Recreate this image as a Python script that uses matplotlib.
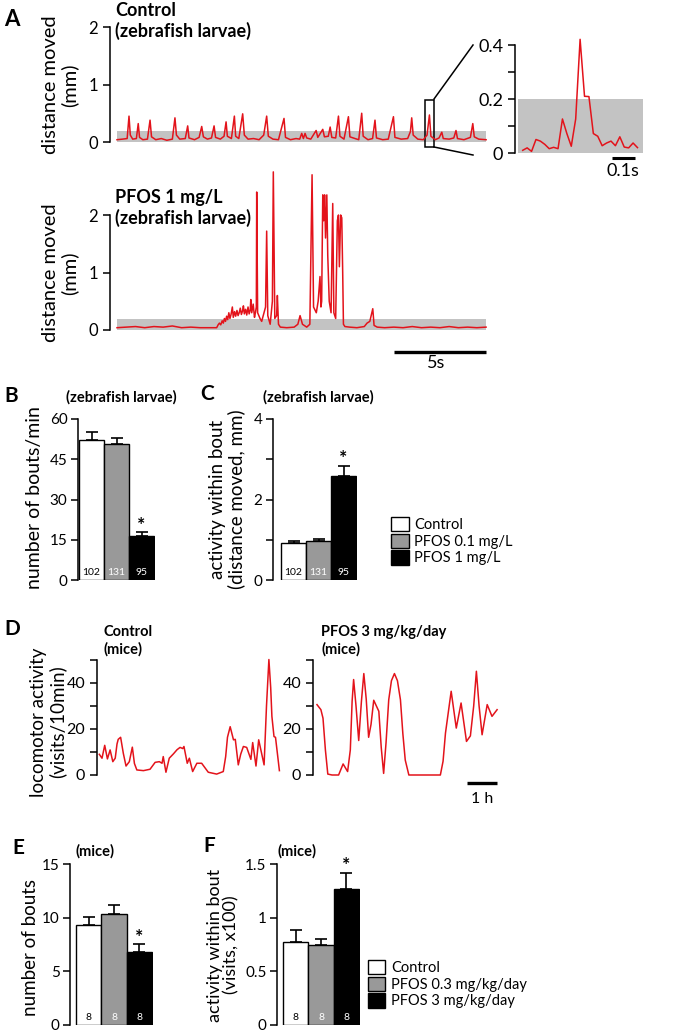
import matplotlib.pyplot as plt
import numpy as np
from matplotlib.patches import Patch, Rectangle
from matplotlib.lines import Line2D

plt.rcParams['font.family'] = ['Lato', 'DejaVu Sans']
plt.rcParams['font.size'] = 12
plt.rcParams['axes.linewidth'] = 1.1
plt.rcParams['ytick.major.width'] = 1.1
plt.rcParams['ytick.major.size'] = 5
plt.rcParams['ytick.labelsize'] = 12

# ---- panel A: zebrafish traces (time in s, distance in mm) ----
ctrl_t = [0, 0.3, 0.55, 0.65, 0.72, 0.85, 1.05, 1.15, 1.22, 1.4, 1.65, 1.79, 1.87, 2.1, 2.4,
          2.7, 3.0, 3.14, 3.22, 3.4, 3.7, 3.83, 3.9, 4.2, 4.45, 4.59, 4.68, 4.9, 5.12, 5.26,
          5.34, 5.6, 5.8, 5.91, 5.98, 6.2, 6.36, 6.43, 6.6, 6.81, 6.9, 7.1, 7.4, 7.7, 7.95,
          8.11, 8.2, 8.45, 8.75, 9.05, 9.13, 9.4, 9.7, 9.9, 10.01, 10.1, 10.19, 10.28, 10.5,
          10.79, 10.88, 11.15, 11.24, 11.45, 11.55, 11.64, 11.85, 12.0, 12.08, 12.3, 12.54,
          12.62, 12.9, 13.1, 13.26, 13.34, 13.6, 13.85, 13.98, 14.06, 14.4, 14.7, 14.98,
          15.06, 15.4, 15.75, 15.9, 15.97, 16.05, 16.3, 16.6, 16.8, 16.93, 17.01, 17.25,
          17.45, 17.6, 17.68, 18.0, 18.25, 18.37, 18.45, 18.8, 19.15, 19.28, 19.36, 19.6, 20.0]
ctrl_y = [0.04, 0.05, 0.06, 0.45, 0.12, 0.05, 0.06, 0.32, 0.08, 0.04, 0.05, 0.38, 0.09, 0.04, 0.06,
          0.03, 0.05, 0.42, 0.12, 0.05, 0.06, 0.28, 0.07, 0.04, 0.08, 0.27, 0.09, 0.05, 0.07, 0.28,
          0.08, 0.05, 0.10, 0.35, 0.10, 0.06, 0.45, 0.10, 0.06, 0.49, 0.12, 0.05, 0.06, 0.04, 0.12,
          0.45, 0.10, 0.05, 0.04, 0.41, 0.08, 0.04, 0.06, 0.05, 0.15, 0.06, 0.15, 0.07, 0.05,
          0.20, 0.08, 0.22, 0.09, 0.10, 0.26, 0.08, 0.07, 0.45, 0.10, 0.05, 0.44,
          0.09, 0.06, 0.04, 0.50, 0.10, 0.04, 0.06, 0.38, 0.07, 0.04, 0.05, 0.44,
          0.08, 0.05, 0.06, 0.18, 0.42, 0.12, 0.05, 0.04, 0.12, 0.47, 0.10, 0.04,
          0.07, 0.17, 0.06, 0.05, 0.07, 0.20, 0.06, 0.04, 0.08, 0.32, 0.09, 0.05, 0.04]

# (time, distance) vertices of the PFOS 1 mg/L trace
pfos_trace = [
    (0, 0.04), (0.5, 0.05), (1.0, 0.06), (1.5, 0.04), (2.0, 0.06), (2.5, 0.05), (3.0, 0.07),
    (3.5, 0.04), (4.0, 0.05), (4.5, 0.04), (5.0, 0.04), (5.4, 0.04), (5.48, 0.09), (5.55, 0.12),
    (5.62, 0.09), (5.7, 0.16), (5.76, 0.12), (5.82, 0.20), (5.88, 0.15), (5.94, 0.24),
    (6.0, 0.18), (6.06, 0.30), (6.12, 0.20), (6.18, 0.27), (6.25, 0.40), (6.3, 0.22),
    (6.37, 0.32), (6.43, 0.24), (6.5, 0.34), (6.56, 0.25), (6.62, 0.30), (6.68, 0.38),
    (6.74, 0.27), (6.8, 0.33), (6.85, 0.42), (6.9, 0.28), (6.97, 0.36), (7.03, 0.26),
    (7.1, 0.40), (7.16, 0.28), (7.22, 0.35), (7.25, 0.53), (7.3, 0.30), (7.38, 0.45),
    (7.45, 0.22), (7.5, 0.30), (7.55, 0.40), (7.57, 2.40), (7.62, 0.30), (7.75, 0.20),
    (7.84, 0.15), (8.05, 0.40), (8.11, 1.72), (8.17, 0.25), (8.3, 0.10), (8.42, 0.50),
    (8.47, 2.75), (8.55, 0.20), (8.65, 0.25), (8.69, 0.60), (8.75, 0.10), (8.85, 0.05),
    (9.2, 0.04), (9.6, 0.05), (9.8, 0.10), (9.92, 0.25), (10.05, 0.10), (10.28, 0.05),
    (10.45, 0.10), (10.57, 2.70), (10.65, 0.40), (10.8, 0.30), (10.9, 0.50), (11.0, 0.93),
    (11.05, 0.40), (11.09, 0.50), (11.15, 2.35), (11.2, 1.90), (11.25, 2.35), (11.3, 1.60),
    (11.37, 2.35), (11.42, 1.30), (11.5, 0.50), (11.6, 0.30), (11.69, 2.20), (11.75, 0.30),
    (11.85, 0.20), (11.94, 1.90), (12.0, 2.00), (12.05, 1.10), (12.12, 2.00), (12.18, 1.95),
    (12.23, 1.00), (12.27, 0.10), (12.35, 0.06), (12.6, 0.05), (13.0, 0.04), (13.4, 0.06),
    (13.55, 0.12), (13.7, 0.15), (13.86, 0.37), (13.93, 0.08), (14.1, 0.05), (14.5, 0.04),
    (15.0, 0.05), (15.5, 0.04), (16.0, 0.06), (16.5, 0.04), (17.0, 0.05), (17.5, 0.04),
    (18.0, 0.06), (18.5, 0.04), (19.0, 0.05), (19.5, 0.04), (20.0, 0.05)]

# inset: 50 Hz samples around the boxed bout
inset_y = [0.010, 0.019, 0.006, 0.050, 0.044, 0.032, 0.016, 0.021, 0.016, 0.126, 0.072, 0.025,
           0.126, 0.421, 0.210, 0.209, 0.072, 0.062, 0.027, 0.037, 0.044, 0.027, 0.060, 0.022,
           0.019, 0.037, 0.020]
inset_t = np.arange(len(inset_y)) * 0.02

# ---- panels B, C: zebrafish bars ----
zf_groups = ['Control', 'PFOS 0.1 mg/L', 'PFOS 1 mg/L']
zf_bouts = [52.0, 50.6, 16.5]
zf_bouts_err = [3.3, 2.4, 1.4]
zf_activity = [0.92, 0.98, 2.58]
zf_activity_err = [0.04, 0.03, 0.26]
zf_n = [102, 131, 95]

# ---- panel D: mice traces (time in h, visits/10min) ----
mctrl_t = [0.01, 0.10, 0.19, 0.28, 0.37, 0.46, 0.54, 0.60, 0.64, 0.72, 0.81, 0.90, 1.01, 1.11,
           1.18, 1.26, 1.48, 1.70, 1.87, 2.01, 2.10, 2.14, 2.23, 2.34, 2.48, 2.60, 2.70, 2.79,
           2.83, 2.94, 3.01, 3.12, 3.26, 3.42, 3.64, 3.92, 4.14, 4.22, 4.28, 4.37, 4.48, 4.54,
           4.64, 4.72, 4.81, 4.92, 5.06, 5.12, 5.23, 5.32, 5.50, 5.58, 5.66, 5.72, 5.76, 5.83,
           5.88, 6.01]
mctrl_y = [9.0, 7.3, 12.9, 7.0, 10.9, 5.8, 7.3, 13.5, 15.5, 16.4, 9.4, 3.9, 5.8, 12.1,
           5.0, 2.2, 1.9, 2.5, 5.5, 5.8, 5.1, 8.0, 1.2, 7.3, 9.2, 11.0, 12.0, 11.5,
           12.4, 5.1, 7.3, 1.5, 5.1, 5.1, 1.2, 0.4, 1.5, 8.0, 16.4, 21.0, 15.3, 15.5,
           4.4, 9.0, 12.4, 12.0, 6.8, 14.1, 3.9, 15.3, 4.4, 30.0, 50.2, 38.0, 25.5, 16.7,
           16.4, 1.9]
mpfos_t = [0, 0.13, 0.2, 0.28, 0.36, 0.5, 0.72, 0.87, 1.02, 1.11, 1.17, 1.22, 1.30, 1.39, 1.48,
           1.56, 1.64, 1.72, 1.80, 1.89, 2.06, 2.14, 2.22, 2.30, 2.39, 2.48, 2.58, 2.68, 2.78,
           2.86, 2.94, 3.06, 3.89, 4.11, 4.20, 4.28, 4.47, 4.64, 4.8, 4.98, 5.11, 5.22, 5.31,
           5.40, 5.5, 5.67, 5.83, 6.0]
mpfos_y = [30.6, 28.4, 24.7, 10.9, 0.4, 0, 0, 4.8, 1.5, 10.9, 32.0, 41.5, 30.0, 15.0, 32.0,
           44.1, 33.0, 16.4, 22.0, 32.5, 27.7, 12.0, 0.7, 14.0, 32.7, 41.0, 44.1, 41.0, 32.7,
           18.0, 6.5, 0, 0, 0, 6.0, 18.2, 36.4, 20.4, 31.3, 14.6, 17.0, 30.0, 45.1,
           30.0, 17.5, 30.6, 25.5, 28.4]

# ---- panels E, F: mice bars ----
mice_groups = ['Control', 'PFOS 0.3 mg/kg/day', 'PFOS 3 mg/kg/day']
mice_bouts = [9.3, 10.3, 6.8]
mice_bouts_err = [0.74, 0.84, 0.71]
mice_activity = [0.77, 0.75, 1.27]
mice_activity_err = [0.115, 0.047, 0.15]
mice_n = [8, 8, 8]

W, H = 673, 1034
RED = '#e3131b'
BAND = '#c3c3c3'
BAR_COLORS = ['white', '#999999', 'black']
N_COLORS = ['black', 'white', 'white']

fig = plt.figure(figsize=(W / 100, H / 100), dpi=100)


def box(l, t, r, b):
    return fig.add_axes([l / W, 1 - b / H, (r - l) / W, (b - t) / H])


def ftext(x, y, s, **kw):
    return fig.text(x / W, 1 - y / H, s, **kw)


def left_only(ax, top):
    for s in ['top', 'right', 'bottom']:
        ax.spines[s].set_visible(False)
    ax.spines['left'].set_bounds(0, top)
    ax.set_xticks([])
    ax.patch.set_alpha(0)


def bar_panel(ax, vals, errs, ns, ticks, labels, ymax, xmin):
    x = np.arange(len(vals))
    ax.bar(x, vals, width=1, color=BAR_COLORS, edgecolor='black', linewidth=1, zorder=2)
    ax.errorbar(x, vals, yerr=[np.zeros(len(vals)), errs], fmt='none', ecolor='black',
                elinewidth=1.2, capsize=4, capthick=1.2, zorder=1)
    for i, n in enumerate(ns):
        ax.text(i, 0.045, str(n), transform=ax.get_xaxis_transform(), ha='center', va='center',
                fontsize=7.5, color=N_COLORS[i], zorder=3)
    ax.annotate('*', (2, vals[2] + errs[2]), xytext=(0, 1), textcoords='offset points',
                ha='center', va='baseline', fontsize=14, fontweight='bold')
    ax.set_ylim(0, ymax)
    ax.set_xlim(xmin, 2.54)
    ax.set_yticks(ticks)
    ax.set_yticklabels(labels)
    ax.tick_params(axis='y', labelsize=11, pad=2.5)
    left_only(ax, ymax)


# ---------------- A top ----------------
ax = box(110, 27, 487, 142)
ax.fill_between([0, 20], 0, 0.2, color=BAND, lw=0)
ax.plot(ctrl_t, ctrl_y, color=RED, lw=1.1, clip_on=False)
ax.set_xlim(-0.38, 20.05)
ax.set_ylim(0, 2)
ax.set_yticks([0, 1, 2])
left_only(ax, 2)
ax.add_patch(Rectangle((16.69, -0.087), 0.49, 0.817, fill=False, ec='black', lw=1.1, clip_on=False))

ftext(115, 2, 'Control\n(zebrafish larvae)', fontweight='bold', fontsize=13, va='top',
      linespacing=1.2)
ftext(60, 85, 'distance moved\n(mm)', rotation=90, ha='center', va='center', fontsize=14.5,
      linespacing=1.1)
fig.add_artist(Line2D([434 / W, 473 / W], [1 - 99 / H, 1 - 45 / H], color='black', lw=1.1))
fig.add_artist(Line2D([434 / W, 473 / W], [1 - 147 / H, 1 - 155 / H], color='black', lw=1.1))

# inset
ax = box(515, 45, 643, 153)
ax.fill_between([-0.022, 0.545], 0, 0.2, color=BAND, lw=0)
ax.plot(inset_t, inset_y, color=RED, lw=1.1, clip_on=False)
ax.set_xlim(-0.035, 0.545)
ax.set_ylim(0, 0.4)
ax.set_yticks([0, 0.1, 0.2, 0.3, 0.4])
ax.set_yticklabels(['0', '', '0.2', '', '0.4'])
ax.tick_params(axis='y', labelsize=13)
left_only(ax, 0.4)
ax.plot([0.404, 0.508], [-0.0185, -0.0185], color='black', lw=2.2, clip_on=False,
        solid_capstyle='butt')
ax.text(0.456, -0.068, '0.1s', ha='center', va='center', fontsize=13)

# ---------------- A bottom ----------------
pfos_t, pfos_y = zip(*pfos_trace)
ax = box(110, 169, 487, 330)
ax.fill_between([0, 20], 0, 0.2, color=BAND, lw=0)
ax.plot(pfos_t, pfos_y, color=RED, lw=1.1, clip_on=False)
ax.set_xlim(-0.38, 20.05)
ax.set_ylim(0, 2.8)
ax.set_yticks([0, 1, 2])
left_only(ax, 2)
ax.plot([15, 20], [-0.38, -0.38], color='black', lw=2.4, clip_on=False, solid_capstyle='butt')
ax.text(17.3, -0.57, '5s', ha='center', va='center', fontsize=13)
ftext(115, 189, 'PFOS 1 mg/L\n(zebrafish larvae)', fontweight='bold', fontsize=13, va='top',
      linespacing=1.2)
ftext(60, 273, 'distance moved\n(mm)', rotation=90, ha='center', va='center', fontsize=14.5,
      linespacing=1.1)

ftext(4, 9, 'A', fontweight='bold', fontsize=16, va='top')

# ---------------- B, C ----------------
ax = box(78, 419, 155, 580)
bar_panel(ax, zf_bouts, zf_bouts_err, zf_n, [0, 15, 30, 45, 60], ['0', '15', '30', '45', '60'],
          60, -0.54)
ftext(35, 498, 'number of bouts/min', rotation=90, ha='center', va='center', fontsize=14)
ftext(66, 390, '(zebrafish larvae)', fontweight='bold', fontsize=10.5, va='top')
ftext(4, 386, 'B', fontweight='bold', fontsize=15, va='top')

ax = box(273, 419, 357, 580)
bar_panel(ax, zf_activity, zf_activity_err, zf_n, [0, 1, 2, 3, 4], ['0', '', '2', '', '4'],
          4, -0.82)
ftext(227, 499, 'activity within bout\n(distance moved, mm)', rotation=90, ha='center',
      va='center', fontsize=13.5, linespacing=1.05)
ftext(263, 390, '(zebrafish larvae)', fontweight='bold', fontsize=10.5, va='top')
ftext(200, 384, 'C', fontweight='bold', fontsize=15, va='top')

fig.legend(handles=[Patch(facecolor=c, edgecolor='black', lw=1) for c in BAR_COLORS],
           labels=zf_groups, loc='upper left', bbox_to_anchor=(391 / W, 1 - 517 / H),
           frameon=False, fontsize=10.5, handlelength=1.2, handleheight=1.15,
           handletextpad=0.4, labelspacing=0.1, borderpad=0, borderaxespad=0)

# ---------------- D ----------------
ax = box(97, 660, 280, 775)
ax.plot(mctrl_t, mctrl_y, color=RED, lw=1.1, clip_on=False)
ax.set_xlim(-0.067, 6.03)
ax.set_ylim(0, 50)
ax.set_yticks([0, 10, 20, 30, 40, 50])
ax.set_yticklabels(['0', '', '20', '', '40', ''])
ax.tick_params(axis='y', labelsize=11.5)
left_only(ax, 50)
ftext(103, 625, 'Control\n(mice)', fontweight='bold', fontsize=10.5, va='top', linespacing=1.3)
ftext(48, 722, 'locomotor activity\n(visits/10min)', rotation=90, ha='center', va='center',
      fontsize=13.5, linespacing=1.05)
ftext(4, 619, 'D', fontweight='bold', fontsize=15, va='top')

ax = box(313, 660, 498, 775)
ax.plot(mpfos_t, mpfos_y, color=RED, lw=1.1, clip_on=False)
ax.set_xlim(-0.133, 6.03)
ax.set_ylim(0, 50)
ax.set_yticks([0, 10, 20, 30, 40, 50])
ax.set_yticklabels(['0', '', '20', '', '40', ''])
ax.tick_params(axis='y', labelsize=11.5)
left_only(ax, 50)
ax.plot([5, 6], [-3.5, -3.5], color='black', lw=2.4, clip_on=False, solid_capstyle='butt')
ax.text(5.5, -10.4, '1 h', ha='center', va='center', fontsize=11.5)
ftext(321, 625, 'PFOS 3 mg/kg/day\n(mice)', fontweight='bold', fontsize=10.5, va='top',
      linespacing=1.3)

# ---------------- E, F ----------------
ax = box(70, 864, 153, 1025)
bar_panel(ax, mice_bouts, mice_bouts_err, mice_n, [0, 5, 10, 15], ['0', '5', '10', '15'],
          15, -0.74)
ftext(31, 947, 'number of bouts', rotation=90, ha='center', va='center', fontsize=13.5)
ftext(76, 844, '(mice)', fontweight='bold', fontsize=10.5, va='top')
ftext(12, 838, 'E', fontweight='bold', fontsize=15, va='top')

ax = box(277, 864, 360, 1025)
bar_panel(ax, mice_activity, mice_activity_err, mice_n, [0, 0.5, 1, 1.5],
          ['0', '0.5', '1', '1.5'], 1.5, -0.74)
ftext(223, 945, 'activity within bout\n(visits, x100)', rotation=90, ha='center', va='center',
      fontsize=13, linespacing=1.0)
ftext(277, 844, '(mice)', fontweight='bold', fontsize=10.5, va='top')
ftext(203, 836, 'F', fontweight='bold', fontsize=15, va='top')

fig.legend(handles=[Patch(facecolor=c, edgecolor='black', lw=1) for c in BAR_COLORS],
           labels=mice_groups, loc='upper left', bbox_to_anchor=(368 / W, 1 - 960 / H),
           frameon=False, fontsize=10.5, handlelength=1.2, handleheight=1.15,
           handletextpad=0.4, labelspacing=0.1, borderpad=0, borderaxespad=0)

fig.savefig('out.png', dpi=100)
